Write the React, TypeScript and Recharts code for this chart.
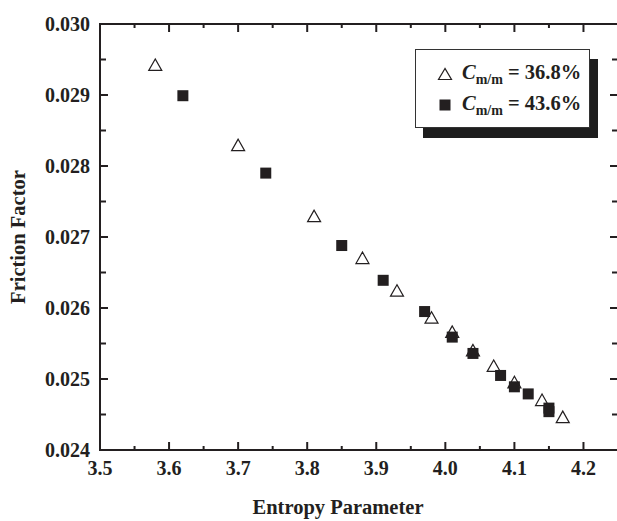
import React from 'react';
import { ScatterChart, Scatter, XAxis, YAxis, Legend } from 'recharts';

// Series 1: C_m/m = 36.8% (open triangles)
const triX = [3.58, 3.70, 3.81, 3.88, 3.93, 3.98, 4.01, 4.04, 4.07, 4.10, 4.14, 4.17];
const triY = [0.02940, 0.02827, 0.02727, 0.02668, 0.02622, 0.02584, 0.02564, 0.02538, 0.02516, 0.02493, 0.02468, 0.02444];
// Series 2: C_m/m = 43.6% (filled squares)
const sqX = [3.62, 3.74, 3.85, 3.91, 3.97, 4.01, 4.04, 4.08, 4.10, 4.12, 4.15, 4.15];
const sqY = [0.02899, 0.02790, 0.02688, 0.02639, 0.02595, 0.02559, 0.02536, 0.02505, 0.02489, 0.02479, 0.02459, 0.02454];

const xTicks = [3.5, 3.55, 3.6, 3.65, 3.7, 3.75, 3.8, 3.85, 3.9, 3.95, 4.0, 4.05, 4.1, 4.15, 4.2, 4.25];
const yTicks = [0.024, 0.0245, 0.025, 0.0255, 0.026, 0.0265, 0.027, 0.0275, 0.028, 0.0285, 0.029, 0.0295, 0.030];
const xDomain = [3.5, 4.25];
const yDomain = [0.024, 0.030];

const seriesNames = ['36.8%', '43.6%'];
const xTitle = 'Entropy Parameter';
const yTitle = 'Friction Factor';

const triData = triX.map((x, i) => ({ x, y: triY[i] }));
const sqData = sqX.map((x, i) => ({ x, y: sqY[i] }));

const INK = '#231f20';
const FONT = '"Liberation Serif", "Times New Roman", serif';

const isMajorX = (v: number) => Math.abs(v * 10 - Math.round(v * 10)) < 1e-6;
const isMajorY = (v: number) => Math.abs(v * 1000 - Math.round(v * 1000)) < 1e-6;

const TriShape = (props: any) => {
  const { cx, cy } = props;
  const w = 13;
  const h = 11.5;
  const pts = `${cx},${cy - (2 * h) / 3} ${cx - w / 2},${cy + h / 3} ${cx + w / 2},${cy + h / 3}`;
  return <polygon points={pts} fill="#fff" stroke={INK} strokeWidth={1.2} />;
};

const SqShape = (props: any) => {
  const { cx, cy } = props;
  const s = 11;
  return <rect x={cx - s / 2} y={cy - s / 2} width={s} height={s} fill={INK} />;
};

const BottomTick = (props: any) => {
  const { x, y, payload } = props;
  const v = payload.value;
  const major = isMajorX(v);
  return (
    <g>
      <line x1={x} x2={x} y1={y} y2={y - (major ? 8 : 4)} stroke={INK} strokeWidth={2} />
      {major && (
        <text x={x} y={y + 25} textAnchor="middle" fontFamily={FONT} fontWeight="bold" fontSize={20} fill={INK}>
          {v.toFixed(1)}
        </text>
      )}
    </g>
  );
};

const TopTick = (props: any) => {
  const { x, y, payload } = props;
  const major = isMajorX(payload.value);
  return <line x1={x} x2={x} y1={y} y2={y + (major ? 8 : 4)} stroke={INK} strokeWidth={2} />;
};

const LeftTick = (props: any) => {
  const { x, y, payload } = props;
  const v = payload.value;
  const major = isMajorY(v);
  return (
    <g>
      <line x1={x} x2={x + (major ? 8 : 6)} y1={y} y2={y} stroke={INK} strokeWidth={2} />
      {major && (
        <text x={x - 10} y={y + 7} textAnchor="end" fontFamily={FONT} fontWeight="bold" fontSize={20} fill={INK}>
          {v.toFixed(3)}
        </text>
      )}
    </g>
  );
};

const RightTick = (props: any) => {
  const { x, y, payload } = props;
  const major = isMajorY(payload.value);
  return <line x1={x} x2={x - (major ? 8 : 6)} y1={y} y2={y} stroke={INK} strokeWidth={2} />;
};

const LegendMarker = ({ kind }: { kind: string }) => (
  <svg width={16} height={16} style={{ display: 'block' }}>
    {kind === 'triangle' ? (
      <polygon points="8,2.5 1.5,13.5 14.5,13.5" fill="#fff" stroke={INK} strokeWidth={1.2} />
    ) : (
      <rect x={2.5} y={2.5} width={11} height={11} fill={INK} />
    )}
  </svg>
);

const LegendContent = (props: any) => {
  const payload = (props.payload || []).filter((p: any) => seriesNames.includes(p.value));
  return (
    <div
      style={{
        width: 175,
        height: 79,
        boxSizing: 'border-box',
        border: `1.5px solid #333`,
        background: '#fff',
        boxShadow: '8px 10px 0 #1e1e1e',
        paddingTop: 8,
        fontFamily: FONT,
        color: INK,
      }}
    >
      {payload.map((p: any, i: number) => (
        <div key={i} style={{ display: 'flex', alignItems: 'center', height: 31 }}>
          <div style={{ marginLeft: 21, width: 16 }}>
            <LegendMarker kind={i === 0 ? 'triangle' : 'square'} />
          </div>
          <div style={{ marginLeft: 9, fontSize: 20.5, fontWeight: 'bold', whiteSpace: 'nowrap', lineHeight: '21px' }}>
            <span style={{ fontStyle: 'italic' }}>C</span>
            <span style={{ fontSize: 14, position: 'relative', top: 5 }}>m/m</span>
            <span> = {p.value}</span>
          </div>
        </div>
      ))}
    </div>
  );
};

const XTitle = () => (
  <text x={338} y={514} textAnchor="middle" fontFamily={FONT} fontWeight="bold" fontSize={20.5} fill={INK}>
    {xTitle}
  </text>
);

const YTitle = (props: any) => {
  const { viewBox } = props;
  const cy = viewBox ? viewBox.y + viewBox.height / 2 : 237;
  const bx = 25;
  return (
    <text x={bx} y={cy} transform={`rotate(-90, ${bx}, ${cy})`} textAnchor="middle" fontFamily={FONT} fontWeight="bold" fontSize={20.5} fill={INK}>
      {yTitle}
    </text>
  );
};

export default function App() {
  const axisLine = { stroke: INK, strokeWidth: 2, strokeLinecap: 'square' as const };
  return (
    <div style={{ position: 'fixed', left: 0, top: 0, width: 617, height: 521, overflow: 'hidden', background: '#fff' }}>
      <ScatterChart width={630} height={521} margin={{ top: 23, right: 11, bottom: 11, left: 20 }}>
        <XAxis
          xAxisId="b"
          type="number"
          dataKey="x"
          domain={xDomain}
          ticks={xTicks}
          interval={0}
          allowDataOverflow
          height={60}
          tickSize={0}
          tickMargin={0}
          tickLine={false}
          axisLine={axisLine}
          tick={<BottomTick />}
          label={<XTitle />}
        />
        <XAxis
          xAxisId="t"
          orientation="top"
          type="number"
          dataKey="x"
          domain={xDomain}
          ticks={xTicks}
          interval={0}
          allowDataOverflow
          height={1}
          tickSize={0}
          tickMargin={0}
          tickLine={false}
          axisLine={axisLine}
          tick={<TopTick />}
        />
        <YAxis
          yAxisId="l"
          type="number"
          dataKey="y"
          domain={yDomain}
          ticks={yTicks}
          interval={0}
          allowDataOverflow
          width={80}
          tickSize={0}
          tickMargin={0}
          tickLine={false}
          axisLine={axisLine}
          tick={<LeftTick />}
          label={<YTitle />}
        />
        <YAxis
          yAxisId="r"
          orientation="right"
          type="number"
          dataKey="y"
          domain={yDomain}
          ticks={yTicks}
          interval={0}
          allowDataOverflow
          width={1}
          tickSize={0}
          tickMargin={0}
          tickLine={false}
          axisLine={axisLine}
          tick={<RightTick />}
        />
        <Legend
          layout="vertical"
          align="center"
          verticalAlign="middle"
          wrapperStyle={{ left: 415, top: 49, width: 175, height: 79 }}
          content={<LegendContent />}
        />
        <Scatter
          name={seriesNames[0]}
          data={triData}
          xAxisId="b"
          yAxisId="l"
          shape={<TriShape />}
          fill="#fff"
          isAnimationActive={false}
        />
        <Scatter
          name={seriesNames[1]}
          data={sqData}
          xAxisId="b"
          yAxisId="l"
          shape={<SqShape />}
          fill={INK}
          isAnimationActive={false}
        />
        <Scatter name="frame" data={triData} xAxisId="t" yAxisId="r" shape={() => null} legendType="none" isAnimationActive={false} />
      </ScatterChart>
    </div>
  );
}
